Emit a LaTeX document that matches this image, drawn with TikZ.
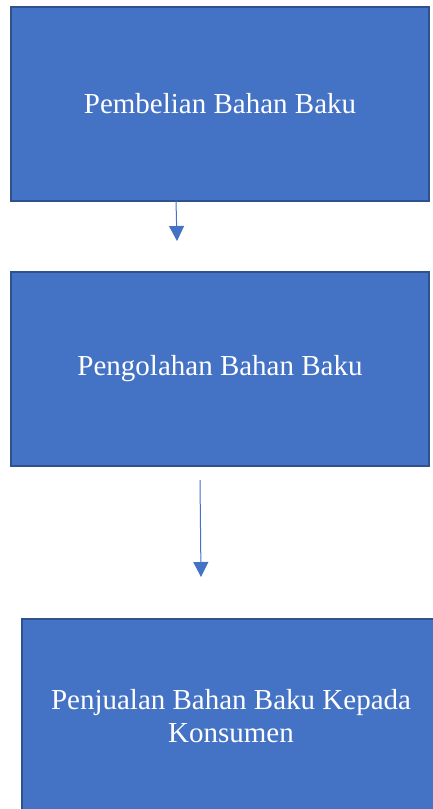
\documentclass[tikz,border=0pt]{standalone}
\usepackage{fontspec}
\setmainfont{Liberation Serif}
\usepackage{tikz}
\usetikzlibrary{arrows.meta}

\definecolor{boxfill}{HTML}{4472C4}
\definecolor{boxline}{HTML}{2F528F}

\begin{document}
\begin{tikzpicture}[x=1pt,y=1pt,
  stage/.style={draw=boxline,line width=1.6pt,fill=boxfill,text=white,
    minimum width=418pt,minimum height=194pt,align=center,inner sep=0pt,
    font=\fontsize{29}{33}\selectfont},
  flow/.style={draw=boxfill,line width=1pt,-{Triangle[length=15pt,width=15pt]}}]

\useasboundingbox (0,0) rectangle (433,-809);

% stages
\node[stage] (beli) at (220,-104) {Pembelian Bahan Baku};
\node[stage] (olah) at (220,-369) {Pengolahan Bahan Baku};
\node[stage] (jual) at (231,-716) {Penjualan Bahan Baku Kepada\\Konsumen};

% arrow ends
\coordinate (s1) at (176,-201);
\coordinate (t1) at (177,-241);
\coordinate (s2) at (200,-480);
\coordinate (t2) at (201,-577);

% arrows
\draw[flow] (s1) -- (t1);
\draw[flow] (s2) -- (t2);

\end{tikzpicture}
\end{document}
